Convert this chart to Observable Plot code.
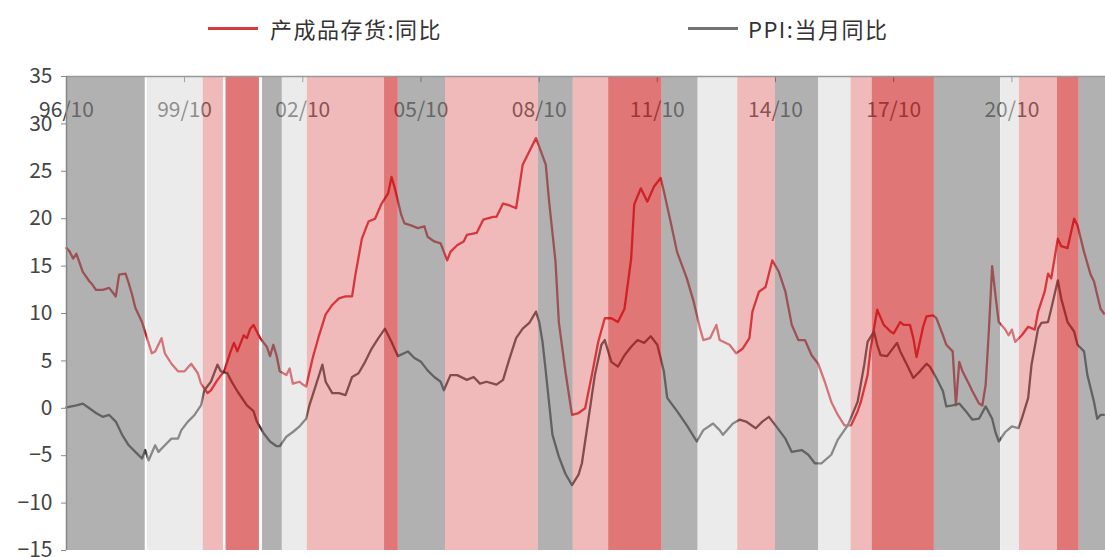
<!DOCTYPE html>
<html>
<head>
<meta charset="utf-8">
<script src="https://cdn.jsdelivr.net/npm/d3@7"></script>
<script src="https://cdn.jsdelivr.net/npm/@observablehq/plot@0.6"></script>
<style>
  html, body { margin: 0; padding: 0; background: #fff; overflow: hidden; }
  #wrap { width: 1105px; font-family: "Noto Sans CJK SC", "Noto Sans", sans-serif; }
  #legend { position: relative; width: 1105px; height: 50px; color: #333; font-size: 22px; }
  #legend .swatch { position: absolute; top: 27px; width: 50px; height: 3px; }
  #legend .label { position: absolute; top: 13px; line-height: 30px; white-space: nowrap; letter-spacing: 1.5px; }
</style>
</head>
<body>
<div id="wrap">
  <div id="legend">
    <span class="swatch" style="left:208px;background:#d63a3a"></span>
    <span class="label" style="left:270px">产成品存货:同比</span>
    <span class="swatch" style="left:688px;background:#737373"></span>
    <span class="label" style="left:748px">PPI:当月同比</span>
  </div>
  <div id="chart"></div>
</div>
<script>
// 产成品存货:同比 (%), monthly readings
const inventoryYoY = [
  ["1996-10",16.9],["1996-11",16.5],["1996-12",15.8],["1997-01",16.3],["1997-03",14.4],["1997-05",13.4],
  ["1997-06",13.0],["1997-07",12.5],["1997-09",12.5],["1997-11",12.7],["1998-01",11.8],["1998-02",14.1],
  ["1998-04",14.2],["1998-05",13.2],["1998-06",12.0],["1998-07",10.6],["1998-09",9.1],["1998-11",6.9],
  ["1998-12",5.8],["1999-01",6.0],["1999-03",7.4],["1999-04",5.8],["1999-06",4.7],["1999-08",3.9],
  ["1999-10",3.9],["1999-12",4.7],["2000-02",3.7],["2000-03",2.6],["2000-05",1.6],["2000-06",1.9],
  ["2000-08",3.0],["2000-10",3.9],["2000-12",6.0],["2001-01",6.9],["2001-02",6.0],["2001-04",7.7],
  ["2001-05",7.4],["2001-06",8.4],["2001-07",8.8],["2001-09",7.4],["2001-11",6.5],["2001-12",5.5],
  ["2002-01",6.7],["2002-02",5.5],["2002-03",3.9],["2002-05",3.5],["2002-06",4.2],["2002-07",2.6],
  ["2002-09",2.8],["2002-10",2.5],["2002-11",2.3],["2003-01",5.3],["2003-03",7.7],["2003-05",9.9],
  ["2003-07",10.9],["2003-09",11.6],["2003-11",11.8],["2004-01",11.8],["2004-02",14.1],["2004-04",17.9],
  ["2004-06",19.7],["2004-08",20.0],["2004-10",21.6],["2004-12",22.7],["2005-01",24.4],["2005-02",23.2],
  ["2005-04",20.4],["2005-05",19.5],["2005-07",19.3],["2005-09",19.0],["2005-11",19.2],["2005-12",18.1],
  ["2006-02",17.6],["2006-04",17.4],["2006-06",15.6],["2006-07",16.5],["2006-09",17.2],["2006-11",17.6],
  ["2006-12",18.3],["2007-03",18.5],["2007-05",19.9],["2007-08",20.2],["2007-09",20.2],["2007-11",21.6],
  ["2008-01",21.4],["2008-03",21.1],["2008-05",25.7],["2008-07",27.1],["2008-09",28.5],["2008-10",27.6],
  ["2008-12",25.7],["2009-01",21.8],["2009-03",15.5],["2009-04",9.1],["2009-06",3.9],["2009-08",-0.7],
  ["2009-10",-0.5],["2009-12",0.0],["2010-02",3.5],["2010-04",7.0],["2010-06",9.5],["2010-08",9.5],
  ["2010-10",9.1],["2010-12",10.5],["2011-02",15.8],["2011-03",21.5],["2011-05",23.2],["2011-07",21.8],
  ["2011-09",23.4],["2011-11",24.3],["2011-12",22.9],["2012-02",19.7],["2012-04",16.5],["2012-07",13.7],
  ["2012-09",11.3],["2012-11",8.4],["2012-12",7.2],["2013-02",7.4],["2013-04",8.8],["2013-05",7.2],
  ["2013-08",6.7],["2013-10",5.8],["2013-12",6.3],["2014-02",7.4],["2014-03",10.2],["2014-05",12.3],
  ["2014-07",12.8],["2014-09",15.6],["2014-11",14.4],["2015-01",12.3],["2015-03",8.8],["2015-05",7.2],
  ["2015-07",7.2],["2015-09",5.6],["2015-11",4.7],["2016-01",2.8],["2016-03",0.7],["2016-05",-0.7],
  ["2016-07",-1.8],["2016-09",-1.8],["2016-11",-0.3],["2016-12",0.7],["2017-02",3.5],["2017-03",6.3],
  ["2017-05",10.4],["2017-07",8.8],["2017-09",8.1],["2017-10",7.9],["2017-12",9.1],["2018-01",8.8],
  ["2018-03",8.8],["2018-04",7.4],["2018-05",5.4],["2018-07",8.6],["2018-08",9.7],["2018-10",9.8],
  ["2018-11",9.5],["2019-01",7.7],["2019-02",6.7],["2019-04",6.0],["2019-05",0.3],["2019-06",4.9],
  ["2019-07",3.9],["2019-09",2.5],["2019-10",1.8],["2019-12",0.5],["2020-01",0.3],["2020-02",2.5],
  ["2020-03",8.1],["2020-04",15.0],["2020-05",12.0],["2020-06",9.1],["2020-08",8.3],["2020-09",7.7],
  ["2020-10",8.3],["2020-11",7.0],["2021-01",7.7],["2021-03",8.6],["2021-05",8.3],["2021-06",10.2],
  ["2021-08",12.3],["2021-09",14.2],["2021-10",13.7],["2021-12",17.9],["2022-01",17.1],["2022-03",16.9],
  ["2022-05",20.0],["2022-06",19.3],["2022-08",16.5],["2022-10",14.1],["2022-11",13.4],["2023-01",10.5],
  ["2023-02",10.0]
];

// PPI:当月同比 (%), monthly readings
const ppiYoY = [
  ["1996-10",0.1],["1997-01",0.3],["1997-03",0.5],["1997-05",0.0],["1997-07",-0.5],["1997-09",-0.9],
  ["1997-11",-0.7],["1998-01",-1.4],["1998-03",-2.8],["1998-05",-3.9],["1998-07",-4.6],["1998-09",-5.3],
  ["1998-10",-4.4],["1998-11",-5.5],["1999-01",-3.9],["1999-02",-4.6],["1999-04",-3.9],["1999-06",-3.2],
  ["1999-08",-3.2],["1999-09",-2.3],["1999-11",-1.4],["2000-01",-0.7],["2000-03",0.3],["2000-04",1.9],
  ["2000-06",2.8],["2000-08",4.6],["2000-09",3.9],["2000-11",3.7],["2000-12",3.0],["2001-02",1.8],
  ["2001-05",0.3],["2001-07",-0.3],["2001-08",-1.4],["2001-10",-2.6],["2001-12",-3.5],["2002-02",-4.0],
  ["2002-03",-4.0],["2002-05",-3.0],["2002-07",-2.5],["2002-09",-1.9],["2002-11",-1.1],["2002-12",0.3],
  ["2003-02",2.5],["2003-04",4.6],["2003-05",2.8],["2003-07",1.6],["2003-09",1.6],["2003-11",1.4],
  ["2004-01",3.3],["2004-03",3.7],["2004-05",4.9],["2004-07",6.3],["2004-09",7.4],["2004-11",8.4],
  ["2005-01",7.0],["2005-03",5.5],["2005-06",6.0],["2005-08",5.3],["2005-10",4.9],["2005-12",4.0],
  ["2006-02",3.3],["2006-04",2.8],["2006-05",1.9],["2006-07",3.5],["2006-09",3.5],["2006-12",3.0],
  ["2007-02",3.3],["2007-04",2.6],["2007-06",2.8],["2007-09",2.5],["2007-11",3.0],["2008-01",5.3],
  ["2008-03",7.4],["2008-05",8.4],["2008-07",9.0],["2008-09",10.2],["2008-10",9.1],["2008-11",7.0],
  ["2008-12",3.9],["2009-02",-2.8],["2009-04",-5.1],["2009-06",-6.9],["2009-08",-8.1],["2009-10",-7.0],
  ["2009-11",-5.8],["2010-01",-1.1],["2010-03",3.5],["2010-05",6.7],["2010-06",7.2],["2010-08",4.9],
  ["2010-10",4.4],["2010-12",5.6],["2011-02",6.5],["2011-04",7.2],["2011-06",6.9],["2011-08",7.6],
  ["2011-10",6.7],["2011-12",3.9],["2012-01",1.1],["2012-04",-0.3],["2012-07",-1.8],["2012-10",-3.5],
  ["2012-12",-2.3],["2013-03",-1.6],["2013-05",-2.3],["2013-06",-2.8],["2013-09",-1.6],["2013-11",-1.2],
  ["2014-01",-1.4],["2014-04",-2.1],["2014-06",-1.4],["2014-08",-0.9],["2014-10",-1.8],["2015-01",-3.2],
  ["2015-03",-4.6],["2015-06",-4.4],["2015-08",-4.9],["2015-10",-5.8],["2015-12",-5.8],["2016-03",-4.9],
  ["2016-05",-3.3],["2016-08",-1.8],["2016-11",0.7],["2017-01",4.6],["2017-02",7.0],["2017-04",8.1],
  ["2017-05",6.7],["2017-06",5.6],["2017-08",5.5],["2017-11",6.9],["2017-12",6.0],["2018-02",4.6],
  ["2018-04",3.2],["2018-06",3.9],["2018-08",4.7],["2018-09",4.4],["2018-11",3.2],["2019-01",1.8],
  ["2019-02",0.2],["2019-04",0.3],["2019-06",0.5],["2019-08",-0.3],["2019-10",-1.2],["2019-12",-1.1],
  ["2020-02",0.2],["2020-04",-1.1],["2020-05",-2.5],["2020-06",-3.5],["2020-08",-2.5],["2020-10",-1.9],
  ["2020-12",-2.1],["2021-01",-1.1],["2021-03",1.1],["2021-04",4.6],["2021-06",8.4],["2021-07",9.0],
  ["2021-09",9.1],["2021-10",10.5],["2021-12",13.5],["2022-01",11.6],["2022-03",9.1],["2022-05",8.1],
  ["2022-06",6.7],["2022-08",6.0],["2022-09",3.5],["2022-11",0.7],["2022-12",-1.1],["2023-01",-0.7],
  ["2023-02",-0.7]
];

// Shaded phases behind the two series
const bandStarts = [
  "1996-10-01","1998-10-20","2000-03-22","2000-10-19","2001-09-22","2002-03-25","2002-11-12",
  "2004-10-28","2005-03-04","2006-05-16","2008-09-22","2009-08-13","2010-07-07","2011-11-13",
  "2012-10-13","2013-10-16","2014-10-01","2015-11-04","2016-09-01","2017-03-16","2018-10-13",
  "2020-06-25","2020-12-10","2021-11-28","2022-06-16"
];
const bandEnds = [
  "1998-10-01","2000-03-22","2000-09-25","2001-08-25","2002-03-25","2002-11-12","2004-10-28",
  "2005-03-04","2006-05-16","2008-09-22","2009-08-13","2010-07-07","2011-11-13","2012-10-13",
  "2013-10-16","2014-10-01","2015-11-04","2016-09-01","2017-03-16","2018-10-13","2020-06-19",
  "2020-12-10","2021-11-28","2022-06-16","2023-03-01"
];
const bandKinds = [
  "gray","light","pink","red","gray","light","pink",
  "red","gray","pink","gray","pink","red","gray",
  "light","pink","gray","light","pink","red","gray",
  "light","pink","red","gray"
];

// Axis ticks
const xTickMonths = ["1996-10","1999-10","2002-10","2005-10","2008-10","2011-10","2014-10","2017-10","2020-10"];
const yTicks = [-15, -10, -5, 0, 5, 10, 15, 20, 25, 30, 35];
const xRange = ["1996-10-01", "2023-02-16"];

const parseMonth = d3.utcParse("%Y-%m");
const parseDay = d3.utcParse("%Y-%m-%d");
const fmtTick = d3.utcFormat("%y/%m");

const inv = inventoryYoY.map(([m, v]) => ({date: parseMonth(m), value: v}));
const ppi = ppiYoY.map(([m, v]) => ({date: parseMonth(m), value: v}));
const bands = bandStarts.map((s, i) => ({start: parseDay(s), end: parseDay(bandEnds[i]), kind: bandKinds[i]}));
const xTicks = xTickMonths.map(parseMonth);
const xDomain = xRange.map(parseDay);

// Semi-transparent phase shading laid over the series
const bandStyle = {
  gray:  {fill: "#7d7d7d", opacity: 0.6},
  light: {fill: "#d7d7d7", opacity: 0.5},
  pink:  {fill: "#de6666", opacity: 0.45},
  red:   {fill: "#d02d2d", opacity: 0.65}
};
const bandMarks = Object.entries(bandStyle).map(([kind, s]) =>
  Plot.rect(bands.filter(b => b.kind === kind), {
    x1: "start", x2: "end", y1: -15, y2: 35,
    fill: s.fill, fillOpacity: s.opacity, clip: true
  })
);

const chart = Plot.plot({
  width: 1105,
  height: 520,
  marginLeft: 66,
  marginRight: 0,
  marginTop: 26,
  marginBottom: 20,
  style: {fontFamily: "'Noto Sans CJK SC', 'Noto Sans', sans-serif", fontSize: "21px", background: "#fff"},
  x: {type: "utc", domain: xDomain, axis: null},
  y: {domain: [-15, 35], axis: null},
  marks: [
    Plot.line(inv, {x: "date", y: "value", stroke: "#d0101a", strokeWidth: 2.3, strokeLinejoin: "round"}),
    Plot.line(ppi, {x: "date", y: "value", stroke: "#3a3a3a", strokeWidth: 2.3, strokeLinejoin: "round"}),
    Plot.text(xTicks, {x: d => d, frameAnchor: "top", dy: 26, text: d => fmtTick(d), fill: "#444", fontSize: 21}),
    Plot.ruleX(xTicks, {x: d => d, y1: 35, y2: 34.35, stroke: "#666"}),
    ...bandMarks,
    Plot.ruleY([35], {stroke: "#999", strokeWidth: 1.5}),
    Plot.ruleX([xDomain[0]], {stroke: "#888", strokeWidth: 1.5}),
    Plot.axisY({ticks: yTicks, label: null, tickSize: 5, tickPadding: 9, fontSize: 21, color: "#444", stroke: "#888"})
  ]
});

document.getElementById("chart").appendChild(chart);
</script>
</body>
</html>
